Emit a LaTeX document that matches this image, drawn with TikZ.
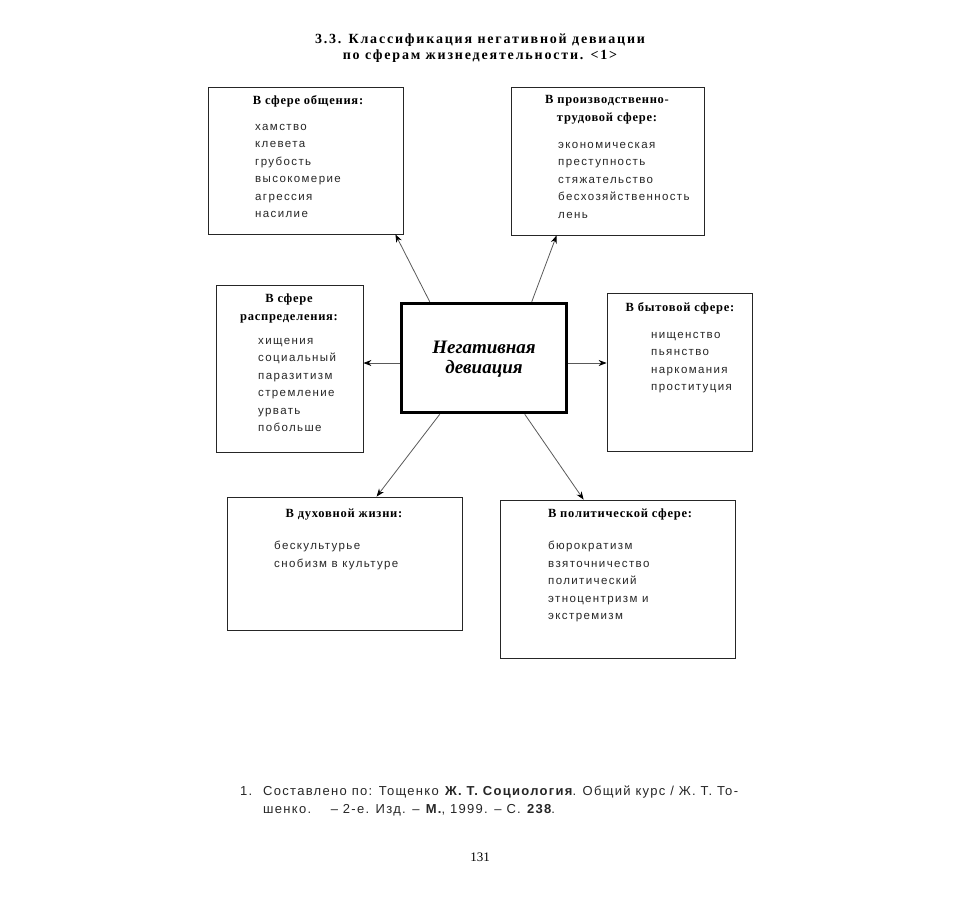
\documentclass[tikz,border=0pt]{standalone}
\usepackage{fontspec}
\setmainfont{Liberation Serif}
\setsansfont{Liberation Sans}
\usetikzlibrary{arrows.meta,calc}
\tikzset{
  sbox/.style={draw=black!85, line width=0.8pt, rectangle, inner sep=0pt},
  cbox/.style={draw=black, line width=3.5pt, rectangle, inner sep=0pt},
  btitle/.style={font=\fontsize{12.5}{18}\selectfont\bfseries\addfontfeatures{LetterSpace=6}, inner sep=0pt, align=center},
  bitems/.style={font=\sffamily\fontsize{11.5}{17.5}\selectfont\addfontfeatures{LetterSpace=12}, inner sep=0pt, align=left, anchor=north west, text=black!85},
  conn/.style={draw=black!65, line width=0.8pt, -{Stealth[length=8pt,width=6pt,color=black]}}
}
\begin{document}
\begin{tikzpicture}[x=1pt,y=-1pt]
\useasboundingbox (0,0) rectangle (960,903);
% title
\node[font=\fontsize{14}{16}\selectfont\bfseries\addfontfeatures{LetterSpace=13}, align=center, inner sep=0pt] (title) at (480,48)
  {3.3. Классификация негативной девиации\\по сферам жизнедеятельности. <1>};
% boxes
\node[sbox, minimum width=195pt, minimum height=147pt] (tl) at (305.5,160.5) {};
\node[sbox, minimum width=193pt, minimum height=148pt] (tr) at (607.5,161) {};
\node[sbox, minimum width=147pt, minimum height=167pt] (ml) at (289.5,368.5) {};
\node[cbox, minimum width=165pt, minimum height=109pt] (c) at (484,358) {};
\node[sbox, minimum width=145pt, minimum height=158pt] (mr) at (679.5,372) {};
\node[sbox, minimum width=235pt, minimum height=133pt] (bl) at (344.5,563.5) {};
\node[sbox, minimum width=235pt, minimum height=158pt] (br) at (617.5,579) {};
% center text
\node[font=\fontsize{19}{20}\selectfont\bfseries\itshape, align=center, inner sep=0pt] (ct) at ($(c)+(0,1)$) {Негативная\\девиация};
% top-left
\node[btitle] (tlt) at (308,101) {В сфере общения:};
\node[bitems] (tli) at (255,124) {хамство\\клевета\\грубость\\высокомерие\\агрессия\\насилие};
% top-right
\node[btitle] (trt) at (607,110) {В производственно-\\трудовой сфере:};
\node[bitems] (tri) at (558,142) {экономическая\\преступность\\стяжательство\\бесхозяйственность\\лень};
% middle-left
\node[btitle] (mlt) at (289,308) {В сфере\\распределения:};
\node[bitems] (mli) at (258,338) {хищения\\социальный\\паразитизм\\стремление\\урвать\\побольше};
% middle-right
\node[btitle] (mrt) at (680,308) {В бытовой сфере:};
\node[bitems] (mri) at (651,332) {нищенство\\пьянство\\наркомания\\проституция};
% bottom-left
\node[btitle] (blt) at (344,515) {В духовной жизни:};
\node[bitems] (bli) at (274,541) {бескультурье\\снобизм в культуре};
% bottom-right
\node[btitle] (brt) at (620,514) {В политической сфере:};
\node[bitems] (bri) at (548,541) {бюрократизм\\взяточничество\\политический\\этноцентризм и\\экстремизм};
% connectors
\draw[conn] ($(c.north west)+(30,0)$) -- ($(tl.south east)+(-8,0)$);
\draw[conn] ($(c.north west)+(132,0)$) -- ($(tr.south west)+(46,0)$);
\draw[conn] ($(c.west)+(0,5)$) -- ($(ml.east)+(0,-5.5)$);
\draw[conn] ($(c.east)+(0,5)$) -- ($(mr.west)+(0,-9)$);
\draw[conn] ($(c.south west)+(40,0)$) -- ($(bl.north west)+(150,0)$);
\draw[conn] ($(c.south west)+(125,0)$) -- ($(br.north west)+(84,0)$);
% footnote
\node[font=\sffamily\fontsize{13}{18}\selectfont\addfontfeatures{LetterSpace=10}, anchor=north west, inner sep=0pt, text=black!85] (fnum) at (240,786) {1.};
\node[font=\sffamily\fontsize{13}{18}\selectfont\addfontfeatures{LetterSpace=10}, anchor=north west, inner sep=0pt, align=left, text=black!85] (fn) at (263,786)
  {Составлено по: Тощенко \textbf{Ж. Т. Социология}. Общий курс / Ж. Т. То-\\шенко. \quad – 2-е. Изд. – \textbf{М.}, 1999. – С. \textbf{238}.};
% page number
\node[font=\fontsize{13}{15}\selectfont, inner sep=0pt] (pg) at (480,857) {131};
\end{tikzpicture}
\end{document}
